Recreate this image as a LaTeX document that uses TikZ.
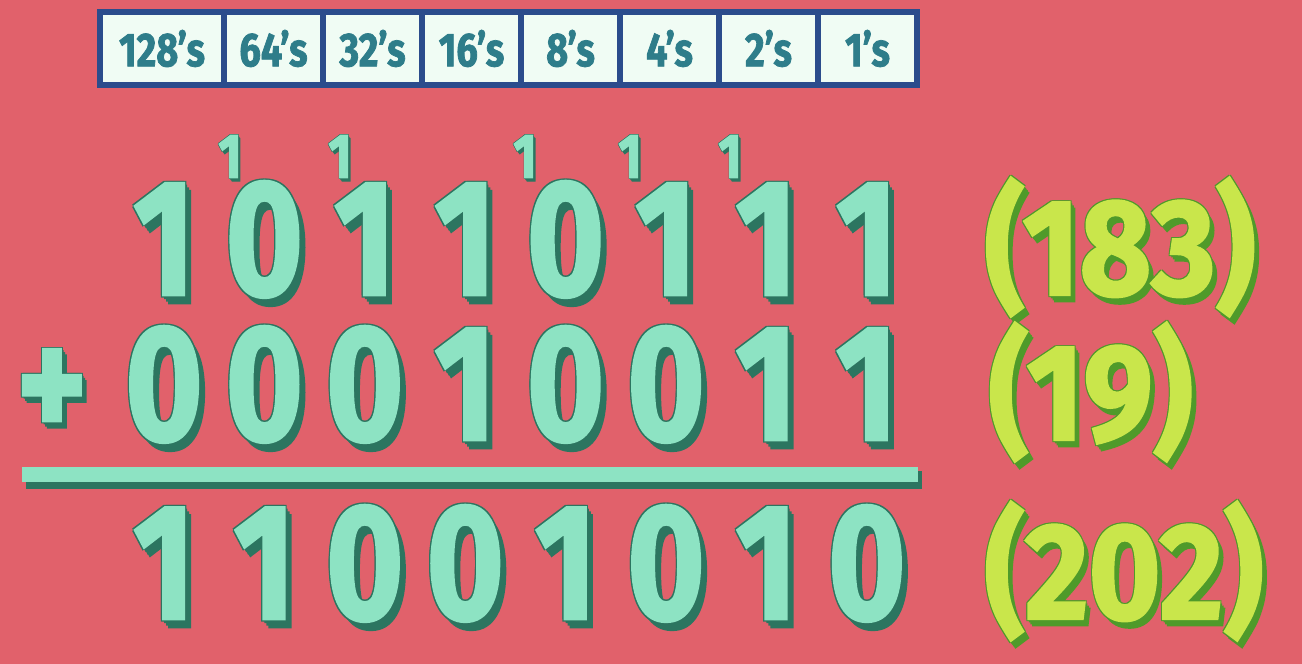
\documentclass[tikz,border=0pt]{standalone}
\usepackage{fontspec}
\usepackage{xcolor}
\setmainfont{Fira Sans}
\newfontfamily\heavyfont{Fira Sans}[FakeStretch=0.80, FakeBold=1.6]
\newfontfamily\widefont{Fira Sans}[FakeStretch=0.90, FakeBold=1.6]
\usetikzlibrary{positioning,calc}

\definecolor{bgred}{HTML}{E1616B}
\definecolor{mint}{HTML}{8DE3C3}
\definecolor{mintdark}{HTML}{2C7560}
\definecolor{lime}{HTML}{C9E64B}
\definecolor{limedark}{HTML}{4F9A2A}
\definecolor{cellfill}{HTML}{F0FCF4}
\definecolor{navy}{HTML}{2B4C8C}
\definecolor{celltext}{HTML}{2E7D8A}

% raised text: dark copies behind, face on top
\newcommand{\solid}[6]{%
  \foreach \k/\dx/\dy in {1/-0.012/0.012,2/0.012/0.012,3/-0.012/-0.012,
                          4/0.02/-0.027,5/0.04/-0.053,6/0.06/-0.08}
    \node[#3, text=#4] (#1-s\k) at ($(#2)+({#6*\dx},{#6*\dy})$) {#5};
  \node[#3] (#1) at (#2) {#5};
}

\begin{document}
\begin{tikzpicture}[node distance=0pt,
    cell/.style={draw=navy, line width=1.6pt, fill=cellfill, text=celltext,
                 font=\heavyfont\bfseries\fontsize{13.5}{13.5}\selectfont,
                 minimum height=0.73cm, minimum width=0.99cm, inner sep=0pt, outer sep=0pt},
    digit/.style={font=\heavyfont\bfseries\fontsize{47}{47}\selectfont, text=mint,
                  anchor=base, inner sep=0pt},
    carry/.style={font=\heavyfont\bfseries\fontsize{18}{18}\selectfont, text=mint,
                  anchor=base, inner sep=0pt},
    decimal/.style={font=\widefont\bfseries\fontsize{39}{39}\selectfont, text=lime,
                    anchor=base west, inner sep=0pt}]

  \useasboundingbox (0,0) rectangle (13.02,6.64);
  \fill[bgred] (0,0) rectangle (13.02,6.64);

  % place values
  \node[cell, minimum width=1.24cm, anchor=north west] (p128) at (1.00,6.52) {128’s};
  \node[cell, right=of p128] (p64) {64’s};
  \node[cell, right=of p64] (p32) {32’s};
  \node[cell, right=of p32] (p16) {16’s};
  \node[cell, right=of p16] (p8) {8’s};
  \node[cell, right=of p8] (p4) {4’s};
  \node[cell, right=of p4] (p2) {2’s};
  \node[cell, right=of p2] (p1) {1’s};

  % carries
  \foreach \x [count=\i] in {2.30,3.40,5.25,6.30,7.30}
    {\solid{carry\i}{\x,4.86}{carry}{mintdark}{1}{0.4}}

  % first number
  \foreach \d [count=\i from 0] in {1,0,1,1,0,1,1,1}
    {\solid{top\i}{{1.64+1.004*\i},3.69}{digit}{mintdark}{\d}{1}}

  % second number
  \solid{plus}{0.52,2.24}{digit}{mintdark}{+}{0.8}
  \foreach \d [count=\i from 0] in {0,0,0,1,0,0,1,1}
    {\solid{mid\i}{{1.64+1.004*\i},2.24}{digit}{mintdark}{\d}{1}}

  % sum line
  \coordinate (lineL) at (0.22,1.89);
  \coordinate (lineR) at (9.18,1.89);
  \draw[mintdark, line width=0.18cm] ([shift={(0.04,-0.05)}]lineL) -- ([shift={(0.04,-0.05)}]lineR);
  \draw[mint, line width=0.15cm] (lineL) -- (lineR);

  % result
  \foreach \d [count=\i from 0] in {1,1,0,0,1,0,1,0}
    {\solid{sum\i}{{1.64+1.004*\i},0.45}{digit}{mintdark}{\d}{1}}

  % decimal values
  \solid{dec183}{9.84,3.69}{decimal}{limedark}{(183)}{0.8}
  \solid{dec19}{9.88,2.24}{decimal}{limedark}{(19)}{0.8}
  \solid{dec202}{9.84,0.45}{decimal}{limedark}{(202)}{0.8}
\end{tikzpicture}
\end{document}
